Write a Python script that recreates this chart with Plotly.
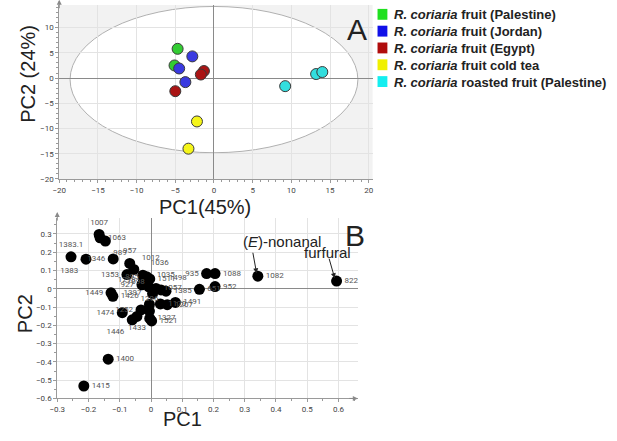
import plotly.graph_objects as go

# ---- Panel A: PCA scores ----
groups = ["Palestine", "Jordan", "Egypt", "cold tea", "roasted"]
legend_names = [
    "<b><i>R. coriaria</i> fruit (Palestine)</b>",
    "<b><i>R. coriaria</i> fruit (Jordan)</b>",
    "<b><i>R. coriaria</i> fruit (Egypt)</b>",
    "<b><i>R. coriaria</i> fruit cold tea</b>",
    "<b><i>R. coriaria</i> roasted fruit (Palestine)</b>",
]
score_pc1 = {
    "Palestine": [-4.7, -5.1],
    "Jordan": [-2.8, -4.5, -3.7],
    "Egypt": [-1.3, -1.7, -5.0],
    "cold tea": [-2.2, -3.3],
    "roasted": [9.2, 13.2, 14.0],
}
score_pc2 = {
    "Palestine": [5.8, 2.5],
    "Jordan": [4.3, 1.9, -0.8],
    "Egypt": [1.4, 0.7, -2.6],
    "cold tea": [-8.6, -14.0],
    "roasted": [-1.6, 0.8, 1.2],
}
point_colors = ["#33cc33", "#3a3ae0", "#aa1414", "#f5f51a", "#33dede"]
legend_colors = ["#1fe01f", "#1010e8", "#b00c0c", "#f0f000", "#14eef0"]

# ---- Panel B: loadings ----
load_ids = ["1383.1", "1383", "1007", "1063", "989", "1346", "957", "1012", "1353",
            "1036", "895", "1511", "1298", "927", "1035", "1057", "1498", "1385",
            "1098", "1449", "1426", "1397", "1296", "1474", "1252", "1433", "1446",
            "1327", "1521", "1170", "1207", "1491", "651", "935", "1088", "952",
            "1082", "822", "1400", "1415"]
load_pc1 = [-0.256, -0.208, -0.166, -0.163, -0.146, -0.121, -0.068, -0.055, -0.077,
            -0.026, -0.014, -0.004, -0.024, -0.029, -0.007, 0.016, 0.032, 0.048,
            0.005, -0.128, -0.122, -0.005, -0.005, -0.092, -0.032, -0.045, -0.060,
            -0.004, 0.002, 0.030, 0.052, 0.078, 0.155, 0.178, 0.205, 0.205,
            0.342, 0.594, -0.137, -0.215]
load_pc2 = [0.175, 0.162, 0.297, 0.279, 0.261, 0.163, 0.139, 0.106, 0.078,
            0.074, 0.066, 0.054, 0.047, 0.022, 0.011, 0.002, -0.006, -0.013,
            -0.027, -0.022, -0.041, -0.086, -0.122, -0.131, -0.116, -0.151, -0.170,
            -0.162, -0.176, -0.083, -0.087, -0.075, -0.003, 0.083, 0.083, 0.012,
            0.069, 0.042, -0.385, -0.532]
label_pos = ["top center", "bottom left", "top center", "middle right", "bottom right",
             "middle left", "top center", "top right", "middle left", "top right",
             "middle left", "middle right", "middle left", "middle left", "top right",
             "middle right", "top right", "middle right", "top left", "middle left",
             "middle right", "top left", "top center", "middle left", "middle left",
             "bottom center", "bottom left", "middle right", "middle right", "middle right",
             "middle right", "middle right", "middle right", "middle left", "middle right",
             "middle right", "middle right", "middle right", "middle right", "middle right"]

W, H = 617, 441


def px_x(p):
    return p / W


def px_y(p):
    return 1 - p / H


fig = go.Figure()

for g, c in zip(groups, point_colors):
    fig.add_trace(go.Scatter(
        x=score_pc1[g], y=score_pc2[g], mode="markers", showlegend=False,
        marker=dict(size=11, color=c, line=dict(color="#3a3a3a", width=1)),
        xaxis="x", yaxis="y"))

fig.add_trace(go.Scatter(
    x=load_pc1, y=load_pc2, mode="markers+text", text=load_ids,
    textposition=label_pos, showlegend=False, cliponaxis=False,
    textfont=dict(size=8, color="#555", family="Roboto"),
    marker=dict(size=11, color="black"),
    xaxis="x2", yaxis="y2"))

tick_font = dict(size=8, color="#444", family="Roboto")
common = dict(showgrid=True, gridcolor="#e3e3e3", gridwidth=1, zeroline=True,
              zerolinecolor="#8a8a8a", zerolinewidth=1, showline=True,
              linecolor="#9a9a9a", linewidth=1, ticks="outside", ticklen=3,
              tickcolor="#9a9a9a", tickfont=tick_font)

fig.update_layout(
    width=W, height=H, margin=dict(l=0, r=0, t=0, b=0),
    paper_bgcolor="white", plot_bgcolor="white",
    xaxis=dict(domain=[px_x(52), px_x(370)], range=[-20, 20.5], dtick=5,
               anchor="y", minor=dict(dtick=1, ticklen=2, tickcolor="#9a9a9a", showgrid=False),
               **common),
    yaxis=dict(domain=[px_y(181), px_y(5)], range=[-20, 14.5], dtick=5,
               anchor="x", minor=dict(dtick=1, ticklen=2, tickcolor="#9a9a9a", showgrid=False),
               **common),
    xaxis2=dict(domain=[px_x(50), px_x(355)], range=[-0.3, 0.662], dtick=0.1,
                anchor="y2", minor=dict(dtick=0.05, ticklen=2, tickcolor="#9a9a9a", showgrid=False),
                **common),
    yaxis2=dict(domain=[px_y(403), px_y(220)], range=[-0.6, 0.39], dtick=0.1,
                anchor="x2", minor=dict(dtick=0.05, ticklen=2, tickcolor="#9a9a9a", showgrid=False),
                **common),
)

# grey background of panel A with the white confidence ellipse
fig.add_shape(type="rect", xref="x domain", yref="y domain", x0=0, x1=1, y0=0, y1=1,
              fillcolor="#f2f2f2", line=dict(width=0), layer="below")
fig.add_shape(type="circle", xref="x", yref="y", x0=-18.6, x1=18.6, y0=-14.8, y1=14.2,
              fillcolor="white", line=dict(color="#b0b0b0", width=1), layer="below")

# manual legend
for i, (name, c) in enumerate(zip(legend_names, legend_colors)):
    yc = 15 + i * 17
    fig.add_shape(type="rect", xref="paper", yref="paper",
                  x0=px_x(375), x1=px_x(385), y0=px_y(yc + 5), y1=px_y(yc - 6),
                  fillcolor=c, line=dict(width=0))
    fig.add_annotation(text=name, xref="paper", yref="paper", x=px_x(390), y=px_y(yc),
                       xanchor="left", yanchor="middle", showarrow=False,
                       font=dict(size=13, color="#222", family="Liberation Sans"))

big = dict(family="Liberation Sans", color="#222")
texts = [
    ("A", 354, 30, 0, 30),
    ("B", 352, 238, 0, 30),
    ("PC1(45%)", 200, 209, 0, 20),
    ("PC2 (24%)", 20, 75, -90, 20),
    ("PC1", 177, 424, 0, 20),
    ("PC2", 18, 317, -90, 20),
    ("(<i>E</i>)-nonanal", 278, 244, 0, 15),
    ("furfural", 324, 255, 0, 15),
]
for t, x, y, ang, s in texts:
    fig.add_annotation(text=t, xref="paper", yref="paper", x=px_x(x), y=px_y(y),
                       xanchor="center", yanchor="middle", showarrow=False,
                       textangle=ang, font=dict(size=s, **big))

# arrows to the highlighted loadings
fig.add_annotation(x=0.338, y=0.085, xref="x2", yref="y2", ax=-4, ay=-22, text="",
                   showarrow=True, arrowhead=2, arrowsize=1, arrowwidth=1, arrowcolor="#222")
fig.add_annotation(x=0.588, y=0.058, xref="x2", yref="y2", ax=-6, ay=-21, text="",
                   showarrow=True, arrowhead=2, arrowsize=1, arrowwidth=1, arrowcolor="#222")

# axis arrows
for xr, yr, x, y, ax, ay in [("x domain", "y domain", 0, 1.03, 0, 10),
                             ("x2 domain", "y2 domain", 0, 1.03, 0, 10),
                             ("x2 domain", "y2 domain", 1.0, 0, -10, 0)]:
    fig.add_annotation(xref=xr, yref=yr, x=x, y=y, ax=ax, ay=ay, text="",
                       showarrow=True, arrowhead=2, arrowsize=1, arrowwidth=1,
                       arrowcolor="#8a8a8a")

fig.write_html("out.html", config={"displayModeBar": False},
               post_script="document.body.style.margin='0';")
